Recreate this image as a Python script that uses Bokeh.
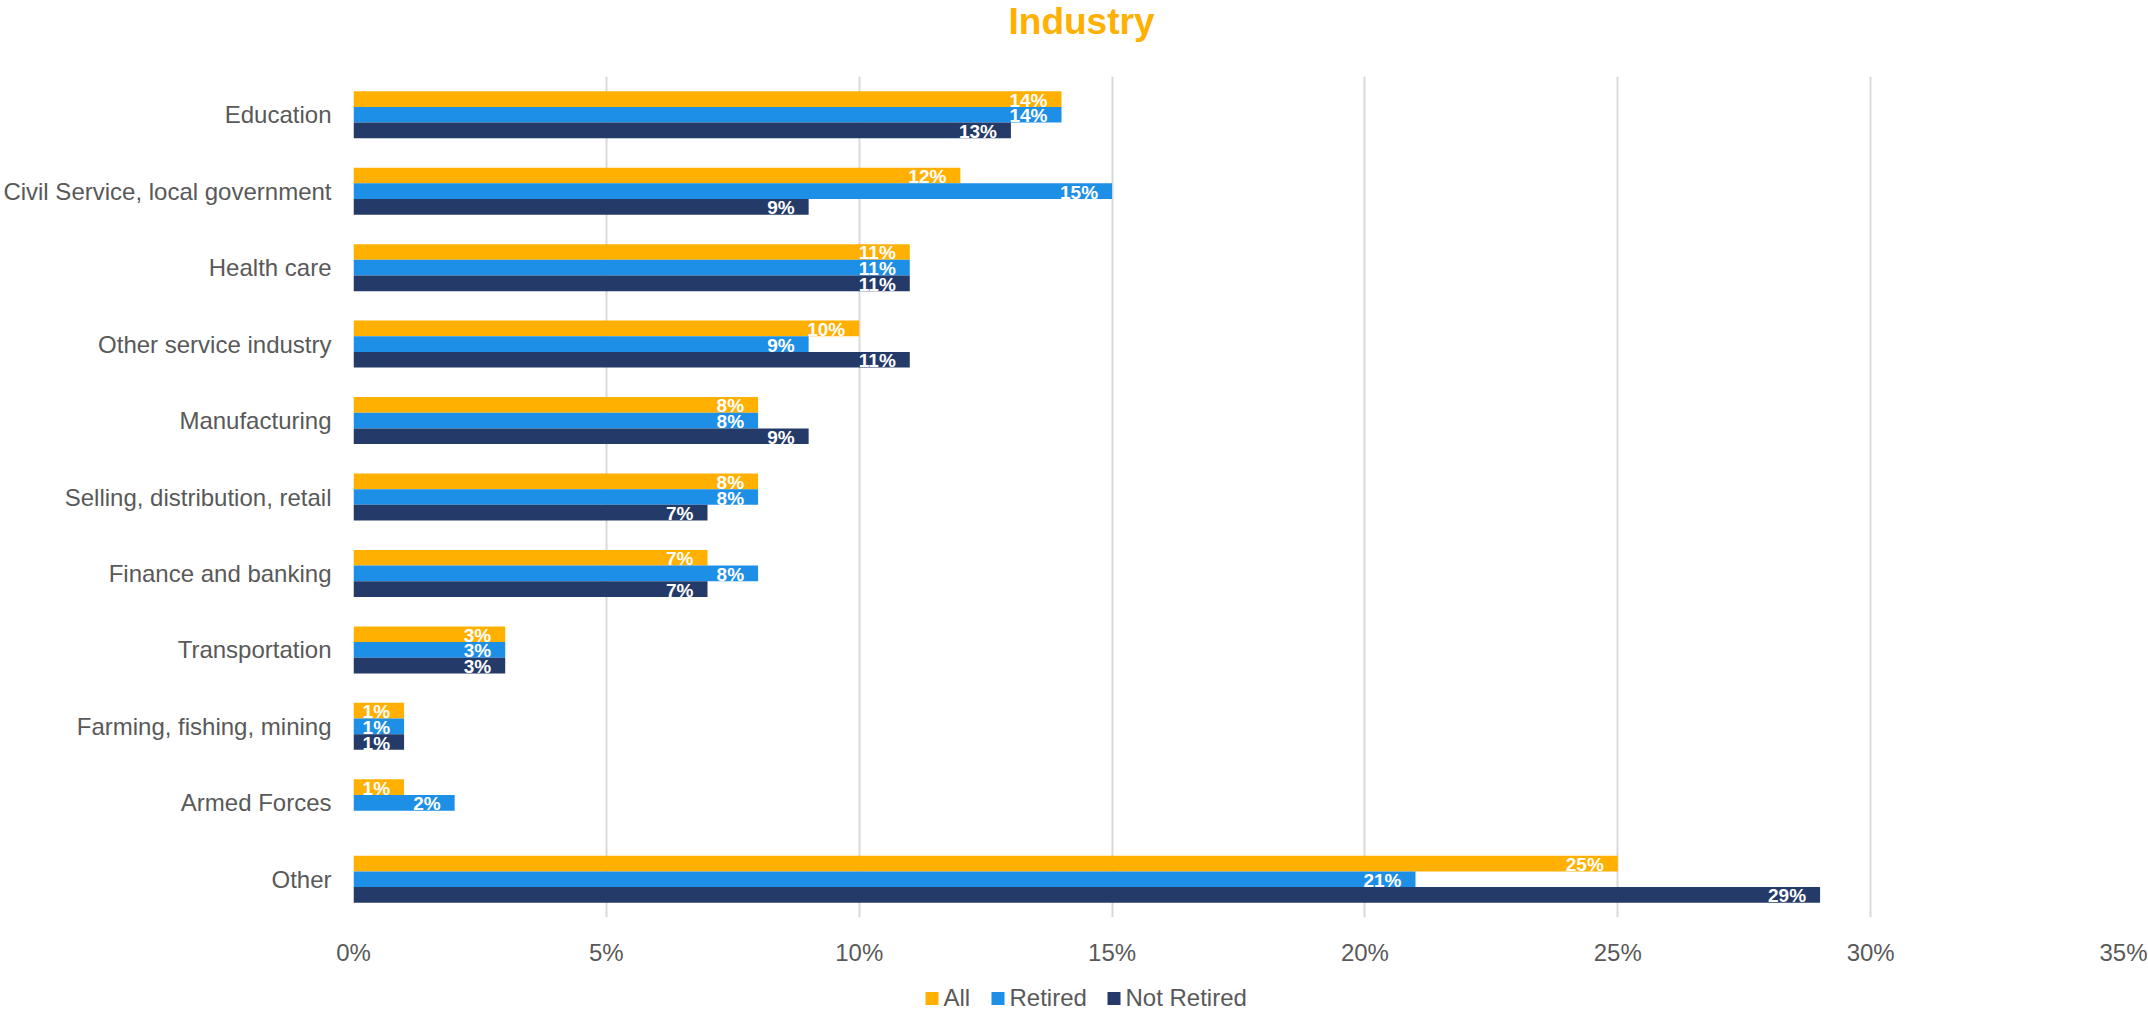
from bokeh.plotting import figure
from bokeh.layouts import column
from bokeh.models import (FactorRange, Range1d, ColumnDataSource,
                          PrintfTickFormatter, FixedTicker)
from bokeh.transform import dodge
from bokeh.core.properties import value
from bokeh.embed import file_html
from bokeh.resources import INLINE

categories = ["Education", "Civil Service, local government", "Health care",
              "Other service industry", "Manufacturing", "Selling, distribution, retail",
              "Finance and banking", "Transportation", "Farming, fishing, mining",
              "Armed Forces", "Other"]
all_vals = [14, 12, 11, 10, 8, 8, 7, 3, 1, 1, 25]
retired_vals = [14, 15, 11, 9, 8, 8, 8, 3, 1, 2, 21]
not_retired_vals = [13, 9, 11, 11, 9, 7, 7, 3, 1, float("nan"), 29]
series_names = ["All", "Retired", "Not Retired"]
series_colors = ["#FFB000", "#1E8FE6", "#243A68"]
x_ticks = [0, 5, 10, 15, 20, 25, 30, 35]
title_text = "Industry"

FONT = "Liberation Sans"
GREY = "#595959"
W = 2148
LEFT, RIGHT = 353, 25          # plot-frame borders shared by all strips


def strip(height):
    """Blank strip whose x data units equal page pixels (frame aligned with the chart)."""
    f = figure(width=W, height=height, x_range=Range1d(LEFT, W - RIGHT),
               y_range=Range1d(0, height),
               output_backend="svg", toolbar_location=None,
               x_axis_location=None, y_axis_location=None,
               min_border_left=LEFT, min_border_right=RIGHT,
               min_border_top=0, min_border_bottom=0)
    f.grid.visible = False
    f.outline_line_color = None
    return f


# ---- title strip ----
pt = strip(60)
pt.text(x=[1081], y=[39], text=[title_text], text_align="center", text_baseline="middle",
        text_font=value(FONT), text_font_size="37px", text_font_style="bold",
        text_color="#FFB000")

# ---- main chart ----
p = figure(width=W, height=908,
           y_range=FactorRange(factors=list(reversed(categories))),
           x_range=Range1d(0, 35),
           output_backend="svg", toolbar_location=None,
           min_border_left=LEFT, min_border_right=RIGHT,
           min_border_top=16, min_border_bottom=50)

bar_h = 0.205
offsets = [bar_h, 0.0, -bar_h]
all_series = [all_vals, retired_vals, not_retired_vals]

for name, vals, col, off in zip(series_names, all_series, series_colors, offsets):
    src = ColumnDataSource(dict(cat=categories, v=vals))
    p.hbar(y=dodge("cat", off, range=p.y_range), right="v", left=0, height=bar_h,
           source=src, fill_color=col, line_color=None)
    lab_cats = [c for c, v in zip(categories, vals) if v == v]
    lab_vals = [v for v in vals if v == v]
    lsrc = ColumnDataSource(dict(cat=lab_cats, v=lab_vals,
                                 t=["%d%%" % v for v in lab_vals]))
    p.text(x="v", y=dodge("cat", off, range=p.y_range), text="t", source=lsrc,
           x_offset=-14, y_offset=1, text_align="right", text_baseline="middle",
           text_color="white", text_font=value(FONT),
           text_font_style="bold", text_font_size="19px")

p.xaxis.ticker = FixedTicker(ticks=x_ticks)
p.xaxis.formatter = PrintfTickFormatter(format="%d%%")
p.xaxis.axis_line_color = None
p.xaxis.major_tick_line_color = None
p.xaxis.minor_tick_line_color = None
p.xaxis.major_label_text_font = FONT
p.xaxis.major_label_text_font_size = "24px"
p.xaxis.major_label_text_color = GREY
p.xaxis.major_label_standoff = 15

p.yaxis.axis_line_color = None
p.yaxis.major_tick_line_color = None
p.yaxis.minor_tick_line_color = None
p.yaxis.major_label_text_font = FONT
p.yaxis.major_label_text_font_size = "24px"
p.yaxis.major_label_text_color = GREY
p.yaxis.major_label_standoff = 16

p.xgrid.grid_line_color = "#D9D9D9"
p.xgrid.grid_line_width = 2
p.ygrid.grid_line_color = None
p.outline_line_color = None
p.y_range.range_padding = 0
p.y_range.group_padding = 0

# ---- legend strip ----
pl = strip(43)
legend_square_left = [925, 991, 1107]
legend_text_left = [943, 1009, 1125]
pl.rect(x=[s + 6.5 for s in legend_square_left], y=[13] * 3, width=13, height=13,
        width_units="screen", height_units="screen",
        fill_color=series_colors, line_color=None)
pl.text(x=legend_text_left, y=[14] * 3, text=series_names,
        text_align="left", text_baseline="middle", text_font=value(FONT),
        text_font_size="24px", text_color=GREY)

layout = column(pt, p, pl, spacing=0)
open("out.html", "w").write(file_html(layout, INLINE))
